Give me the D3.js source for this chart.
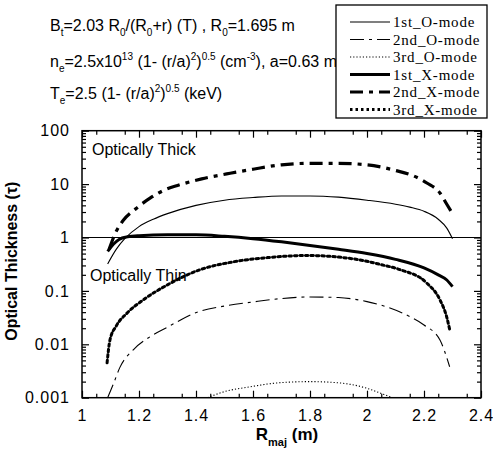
<!DOCTYPE html>
<html><head><meta charset="utf-8">
<script src="https://cdn.jsdelivr.net/npm/d3@7"></script>
<style>
body{margin:0;background:#fff;}
svg{display:block;}
</style></head>
<body>
<svg id="chart" width="493" height="451"></svg>
<script>
// ---- data ----
const xTicks = [1, 1.2, 1.4, 1.6, 1.8, 2, 2.2, 2.4];
const yTicks = [100, 10, 1, 0.1, 0.01, 0.001];
const yTickLabels = ["100", "10", "1", "0.1", "0.01", "0.001"];
const seriesNames = ["1st_O-mode", "2nd_O-mode", "3rd_O-mode", "1st_X-mode", "2nd_X-mode", "3rd_X-mode"];

const o1R = [1.09, 1.12, 1.15, 1.2, 1.25, 1.3, 1.4, 1.5, 1.6, 1.7, 1.8, 1.9, 2.0, 2.1, 2.15, 2.2, 2.25, 2.28, 2.3];
const o1T = [0.32, 0.6, 0.95, 1.6, 2.2, 2.8, 4.0, 5.0, 5.6, 6.0, 6.0, 5.7, 5.0, 4.2, 3.7, 3.1, 2.2, 1.5, 0.95];

const o2R = [1.09, 1.11, 1.133, 1.18, 1.24, 1.3, 1.41, 1.5, 1.6, 1.7, 1.8, 1.9, 2.0, 2.07, 2.15, 2.2, 2.256, 2.29];
const o2T = [0.001, 0.0018, 0.0037, 0.0079, 0.014, 0.021, 0.041, 0.052, 0.062, 0.072, 0.077, 0.075, 0.063, 0.05, 0.033, 0.023, 0.012, 0.0038];

const o3R = [1.44, 1.5, 1.59, 1.65, 1.72, 1.8, 1.9, 2.0, 2.05, 2.09];
const o3T = [0.001, 0.0013, 0.0016, 0.0018, 0.00195, 0.002, 0.0019, 0.0015, 0.0012, 0.001];

const x1R = [1.09, 1.11, 1.13, 1.16, 1.2, 1.3, 1.4, 1.5, 1.6, 1.7, 1.8, 1.9, 2.0, 2.1, 2.2, 2.25, 2.28, 2.3];
const x1T = [0.55, 0.75, 0.92, 1.03, 1.08, 1.12, 1.12, 1.05, 0.95, 0.83, 0.71, 0.6, 0.5, 0.39, 0.27, 0.2, 0.16, 0.12];

const x2R = [1.095, 1.12, 1.145, 1.19, 1.24, 1.29, 1.34, 1.42, 1.52, 1.6, 1.7, 1.8, 1.9, 2.0, 2.1, 2.16, 2.21, 2.256, 2.28, 2.3];
const x2T = [0.6, 1.3, 2.1, 3.5, 5.5, 7.8, 9.6, 12.5, 16, 19, 23, 24.5, 24.5, 23, 18, 14.5, 10.5, 6.8, 4.2, 2.8];

const x3R = [1.088, 1.098, 1.12, 1.157, 1.215, 1.3, 1.41, 1.53, 1.65, 1.79, 1.9, 1.975, 2.05, 2.116, 2.21, 2.256, 2.28, 2.29];
const x3T = [0.0045, 0.012, 0.022, 0.038, 0.068, 0.13, 0.245, 0.35, 0.42, 0.46, 0.43, 0.38, 0.31, 0.25, 0.14, 0.068, 0.032, 0.019];

const seriesR = [o1R, o2R, o3R, x1R, x2R, x3R];
const seriesT = [o1T, o2T, o3T, x1T, x2T, x3T];

// ---- styles ----
const styles = [
  {w: 1.1, dash: null},
  {w: 1.1, dash: "14,5,3,5"},
  {w: 1.1, dash: "1.2,2"},
  {w: 3, dash: null},
  {w: 3.2, dash: "13,6,4,6"},
  {w: 3, dash: "2.5,3"}
];

const svg = d3.select("#chart");
const L = 82, R = 481, T = 130.7, B = 397.7;
const x = d3.scaleLinear().domain([1, 2.4]).range([L, R]);
const y = d3.scaleLog().domain([0.001, 100]).range([B, T]);

const sans = "'Liberation Sans', Arial, Helvetica, sans-serif";
const serif = "'Liberation Serif', 'Times New Roman', serif";

// clip
svg.append("clipPath").attr("id", "plotclip").append("rect")
  .attr("x", L).attr("y", T).attr("width", R - L).attr("height", B - T);

// Header texts
function richLine(yy, parts) {
  const t = svg.append("text").attr("x", 50).attr("y", yy)
    .attr("font-family", sans).attr("font-size", 16).attr("fill", "#000");
  parts.forEach(p => {
    const ts = t.append("tspan").text(p[0]);
    if (p[1] === "sub") ts.attr("font-size", 10).attr("dy", 5);
    else if (p[1] === "sup") ts.attr("font-size", 10).attr("dy", -7);
    if (p[2]) ts.attr("dy", p[2]);
  });
  return t;
}
richLine(31, [["B"], ["t", "sub"], ["=2.03 R", null, -5], ["0", "sub"], ["/(R", null, -5], ["0", "sub"], ["+r) (T) , R", null, -5], ["0", "sub"], ["=1.695 m", null, -5]]);
richLine(67, [["n"], ["e", "sub"], ["=2.5x10", null, -5], ["13", "sup"], [" (1- (r/a)", null, 7], ["2", "sup"], [")", null, 7], ["0.5", "sup"], [" (cm", null, 7], ["-3", "sup"], ["), a=0.63 m", null, 7]]);
richLine(99, [["T"], ["e", "sub"], ["=2.5 (1- (r/a)", null, -5], ["2", "sup"], [")", null, 7], ["0.5", "sup"], [" (keV)", null, 7]]);

// Axes
svg.append("g").attr("transform", `translate(0,${B})`)
  .call(d3.axisBottom(x).tickValues(xTicks).tickFormat(d3.format("")).tickSize(-7).tickPadding(12));
svg.append("g").attr("transform", `translate(0,${T})`)
  .call(d3.axisTop(x).tickValues(xTicks).tickFormat("").tickSize(-7));
const xMinor = d3.range(1.05, 2.4, 0.1);
svg.append("g").attr("transform", `translate(0,${B})`)
  .call(d3.axisBottom(x).tickValues(xMinor).tickFormat("").tickSize(-4));
svg.append("g").attr("transform", `translate(0,${T})`)
  .call(d3.axisTop(x).tickValues(xMinor).tickFormat("").tickSize(-4));

svg.append("g").attr("transform", `translate(${L},0)`)
  .call(d3.axisLeft(y).tickValues(yTicks).tickFormat((d, i) => yTickLabels[i]).tickSize(-7).tickPadding(12));
svg.append("g").attr("transform", `translate(${R},0)`)
  .call(d3.axisRight(y).tickValues(yTicks).tickFormat("").tickSize(-7));
const yMinor = [];
[0.001, 0.01, 0.1, 1, 10].forEach(d => { for (let k = 2; k <= 9; k++) yMinor.push(d * k); });
svg.append("g").attr("transform", `translate(${L},0)`)
  .call(d3.axisLeft(y).tickValues(yMinor).tickFormat("").tickSize(-4));
svg.append("g").attr("transform", `translate(${R},0)`)
  .call(d3.axisRight(y).tickValues(yMinor).tickFormat("").tickSize(-4));

svg.selectAll(".domain").remove();
svg.selectAll(".tick line").attr("stroke", "#000").attr("stroke-width", 1.2);
svg.selectAll(".tick text").attr("font-family", sans).attr("font-size", 16)
  .attr("letter-spacing", 1).attr("fill", "#000");

// frame
svg.append("rect").attr("x", L).attr("y", T).attr("width", R - L).attr("height", B - T)
  .attr("fill", "none").attr("stroke", "#000").attr("stroke-width", 1.5);

// tau = 1 reference line
svg.append("line").attr("x1", x(1)).attr("x2", x(2.4)).attr("y1", y(1)).attr("y2", y(1))
  .attr("stroke", "#000").attr("stroke-width", 1.2);

// series
const line = d3.line().x(d => x(d[0])).y(d => y(d[1])).curve(d3.curveMonotoneX);
const gp = svg.append("g").attr("clip-path", "url(#plotclip)");
seriesR.forEach((rs, i) => {
  const pts = rs.map((r, j) => [r, seriesT[i][j]]);
  gp.append("path").datum(pts).attr("d", line)
    .attr("fill", "none").attr("stroke", "#000")
    .attr("stroke-width", styles[i].w)
    .attr("stroke-dasharray", styles[i].dash)
    .attr("stroke-linecap", i === 5 ? "round" : "butt");
});

// annotations
svg.append("text").attr("x", 92).attr("y", 155).text("Optically Thick")
  .attr("font-family", sans).attr("font-size", 16).attr("fill", "#000");
svg.append("text").attr("x", 90).attr("y", 281).text("Optically Thin")
  .attr("font-family", sans).attr("font-size", 16).attr("fill", "#000");

// axis titles
svg.append("text").attr("transform", `translate(17,${(T + B) / 2 - 3}) rotate(-90)`)
  .attr("text-anchor", "middle").attr("font-family", sans).attr("font-weight", "bold")
  .attr("font-size", 16).attr("fill", "#000").text("Optical Thickness (τ)");
const xt = svg.append("text").attr("x", 287).attr("y", 440).attr("text-anchor", "middle")
  .attr("font-family", sans).attr("font-weight", "bold").attr("font-size", 17).attr("fill", "#000");
xt.append("tspan").text("R");
xt.append("tspan").text("maj").attr("font-size", 11).attr("dy", 6);
xt.append("tspan").text(" (m)").attr("dy", -6);

// legend
const lg = svg.append("g");
lg.append("rect").attr("x", 336).attr("y", 5).attr("width", 151).attr("height", 113)
  .attr("fill", "#fff").attr("stroke", "#000").attr("stroke-width", 1.3);
seriesNames.forEach((n, i) => {
  const yy = 22 + i * 17.5;
  lg.append("line").attr("x1", 350).attr("x2", 390).attr("y1", yy).attr("y2", yy)
    .attr("stroke", "#000").attr("stroke-width", styles[i].w)
    .attr("stroke-dasharray", styles[i].dash);
  lg.append("text").attr("x", 393).attr("y", yy + 5).text(n)
    .attr("font-family", serif).attr("font-size", 15).attr("letter-spacing", 0.8).attr("fill", "#000");
});
</script>
</body></html>
